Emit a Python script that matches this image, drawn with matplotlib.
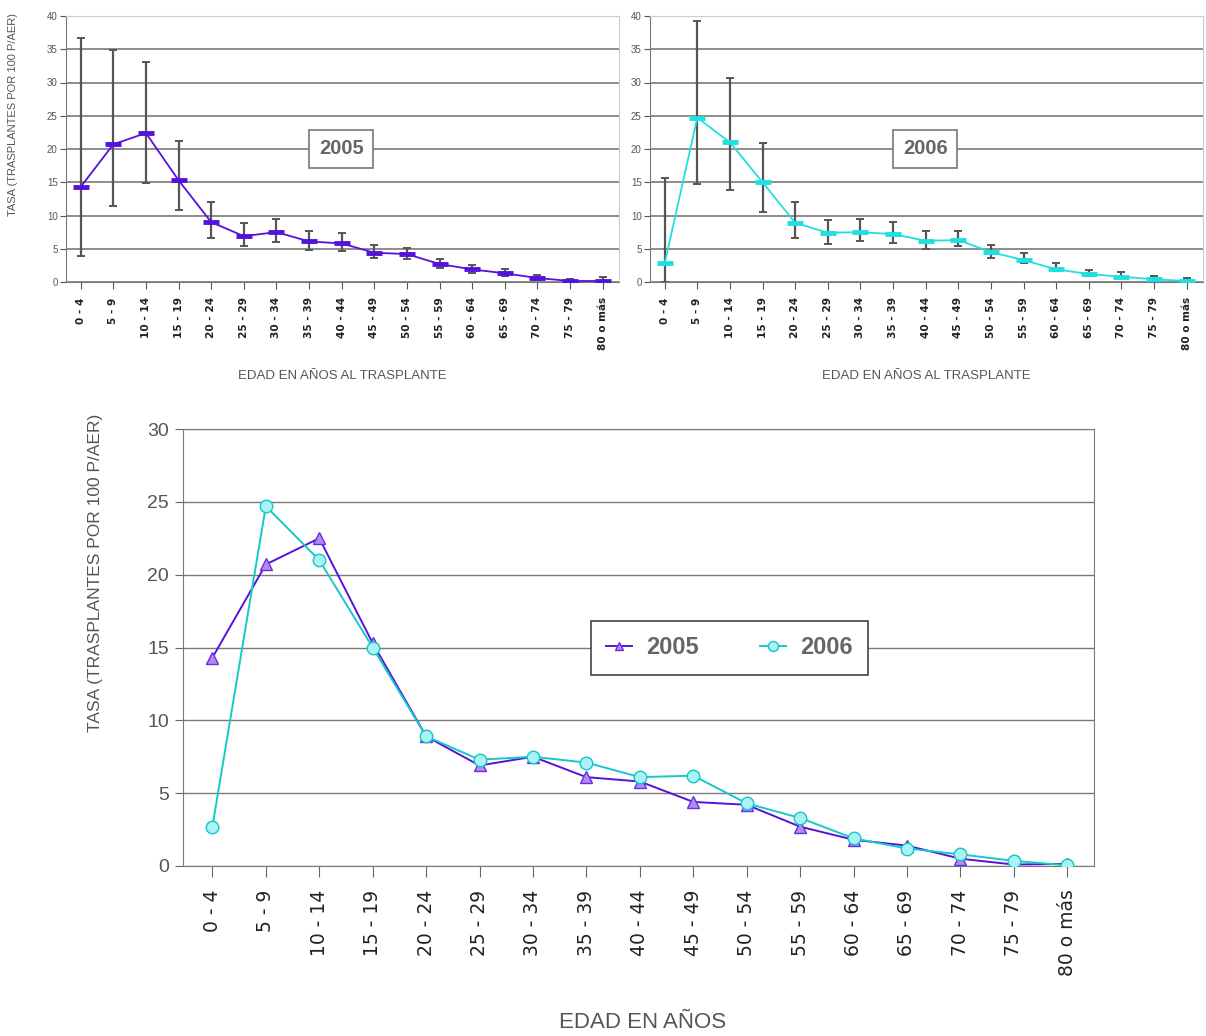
import matplotlib
matplotlib.use('Agg')
import matplotlib.pyplot as plt
import numpy as np

# age groups
ages = ['0 - 4', '5 - 9', '10 - 14', '15 - 19', '20 - 24', '25 - 29', '30 - 34',
        '35 - 39', '40 - 44', '45 - 49', '50 - 54', '55 - 59', '60 - 64',
        '65 - 69', '70 - 74', '75 - 79', '80 o más']

# 2005 rate and confidence limits
tasa_2005 = [14.3, 20.7, 22.4, 15.3, 9.0, 6.9, 7.5, 6.1, 5.8, 4.4, 4.2, 2.7, 1.9, 1.3, 0.6, 0.15, 0.15]
inf_2005 = [3.9, 11.4, 14.9, 10.8, 6.6, 5.4, 6.0, 4.8, 4.6, 3.6, 3.4, 2.1, 1.3, 0.9, 0.3, 0.0, 0.0]
sup_2005 = [36.7, 34.9, 33.1, 21.2, 12.1, 8.8, 9.4, 7.6, 7.3, 5.5, 5.1, 3.4, 2.5, 1.9, 1.0, 0.4, 0.7]

# 2006 rate and confidence limits
tasa_2006 = [2.8, 24.7, 21.0, 15.0, 8.9, 7.4, 7.5, 7.2, 6.2, 6.3, 4.5, 3.3, 1.9, 1.2, 0.8, 0.4, 0.15]
inf_2006 = [0.0, 14.8, 13.8, 10.6, 6.6, 5.7, 6.2, 5.8, 4.9, 5.4, 3.6, 2.8, 1.7, 0.9, 0.6, 0.2, 0.0]
sup_2006 = [15.7, 39.2, 30.7, 20.9, 12.0, 9.3, 9.4, 9.0, 7.7, 7.7, 5.5, 4.4, 2.8, 1.8, 1.5, 0.9, 0.6]

# comparison chart values
comp_2005 = [14.3, 20.7, 22.5, 15.3, 8.9, 6.9, 7.5, 6.1, 5.8, 4.4, 4.2, 2.7, 1.8, 1.4, 0.5, 0.1, 0.15]
comp_2006 = [2.7, 24.7, 21.0, 15.0, 8.9, 7.3, 7.5, 7.1, 6.1, 6.2, 4.3, 3.3, 1.9, 1.2, 0.8, 0.35, 0.05]

W, H = 1206, 1036
NARROW = ['Liberation Sans', 'DejaVu Sans']
TXT = '#555555'

fig = plt.figure(figsize=(W / 100, H / 100), dpi=100)


def px_axes(l, r, t, b):
    return fig.add_axes([l / W, (H - b) / H, (r - l) / W, (b - t) / H])


def style_top(ax):
    x = np.arange(len(ages))
    ax.set_xlim(-0.45, 16.5)
    ax.set_ylim(0, 40)
    ax.set_yticks(range(0, 41, 5))
    ax.set_xticks(x)
    ax.set_xticklabels(ages, rotation=90, fontsize=7.6, fontweight='bold', color='#222222')
    for t in ax.get_yticklabels():
        t.set_fontsize(7)
        t.set_color(TXT)
        t.set_family(NARROW)
    ax.tick_params(axis='x', length=5, color='#555555', pad=6)
    ax.tick_params(axis='y', length=4, color='#555555', pad=2)
    ax.grid(axis='y', color='#8c8c8c', lw=1.4)
    ax.set_axisbelow(True)
    for s in ['top', 'right']:
        ax.spines[s].set_color('#cccccc')
    for s in ['left', 'bottom']:
        ax.spines[s].set_color('#777777')
    ax.set_xlabel('EDAD EN AÑOS AL TRASPLANTE', fontsize=9.5, color=TXT, family=NARROW)
    ax.xaxis.set_label_coords(0.5, -0.33)


def top_panel(ax, tasa, inf, sup, color, year):
    x = np.arange(len(ages))
    tasa = np.array(tasa)
    err = [tasa - np.array(inf), np.array(sup) - tasa]
    ax.errorbar(x, tasa, yerr=err, fmt='none', ecolor='#555555', elinewidth=1.6,
                capsize=3, capthick=1.4, zorder=2)
    ax.plot(x, tasa, color=color, lw=1.3, marker='_', ms=12, mew=3.5, zorder=3)
    style_top(ax)
    ax.text(0.498, 0.5, year, transform=ax.transAxes, ha='center', va='center',
            fontsize=14.5, fontweight='bold', color='#666666', family=NARROW,
            bbox=dict(boxstyle='square,pad=0.48', fc='white', ec='#777777', lw=1.2))


ax1 = px_axes(66, 619, 16, 282)
top_panel(ax1, tasa_2005, inf_2005, sup_2005, '#5512dd', '2005')
ax1.set_ylabel('TASA (TRASPLANTES POR 100 P/AER)', fontsize=8, color=TXT, family=NARROW)
ax1.yaxis.set_label_coords(-0.087, 0.628)

ax2 = px_axes(650, 1203, 16, 282)
top_panel(ax2, tasa_2006, inf_2006, sup_2006, '#1ee0e0', '2006')

# comparison chart
ax3 = px_axes(183, 1094, 429, 866)
x = np.arange(len(ages))
ax3.plot(x, comp_2005, color='#5512dd', lw=1.4, marker='^', ms=8,
         mfc='#b18cf2', mec='#6a2ee0', mew=1, label='2005', zorder=3)
ax3.plot(x, comp_2006, color='#17c8c8', lw=1.4, marker='o', ms=9,
         mfc='#a8f4f4', mec='#17c4c8', mew=1, label='2006', zorder=4)
ax3.set_xlim(-0.55, 16.5)
ax3.set_ylim(0, 30)
ax3.set_yticks(range(0, 31, 5))
ax3.set_xticks(x)
ax3.set_xticklabels(ages, rotation=90, fontsize=13.5, color='#222222')
for t in ax3.get_yticklabels():
    t.set_fontsize(14)
    t.set_color(TXT)
    t.set_family(NARROW)
ax3.tick_params(axis='x', length=8, color='#666666', pad=9)
ax3.tick_params(axis='y', length=6, color='#666666', pad=4)
ax3.grid(axis='y', color='#7a7a7a', lw=1)
ax3.set_axisbelow(True)
for s in ax3.spines.values():
    s.set_color('#7a7a7a')
ax3.set_ylabel('TASA (TRASPLANTES POR 100 P/AER)', fontsize=12.5, color=TXT, family=NARROW)
ax3.yaxis.set_label_coords(-0.088, 0.67)
ax3.set_xlabel('EDAD EN AÑOS', fontsize=16, color=TXT, family=NARROW)
ax3.xaxis.set_label_coords(0.505, -0.333)

leg = ax3.legend(loc='center', bbox_to_anchor=(0.60, 0.499), ncol=2, fancybox=False,
                 edgecolor='#444444', framealpha=1, handlelength=1.1, handletextpad=0.6,
                 columnspacing=2.6, borderpad=0.65, borderaxespad=0, markerscale=0.8,
                 prop={'size': 17, 'weight': 'bold', 'family': NARROW})
leg.get_frame().set_linewidth(1.2)
for t in leg.get_texts():
    t.set_color('#666666')

fig.savefig('out.png', dpi=100, facecolor='white')
